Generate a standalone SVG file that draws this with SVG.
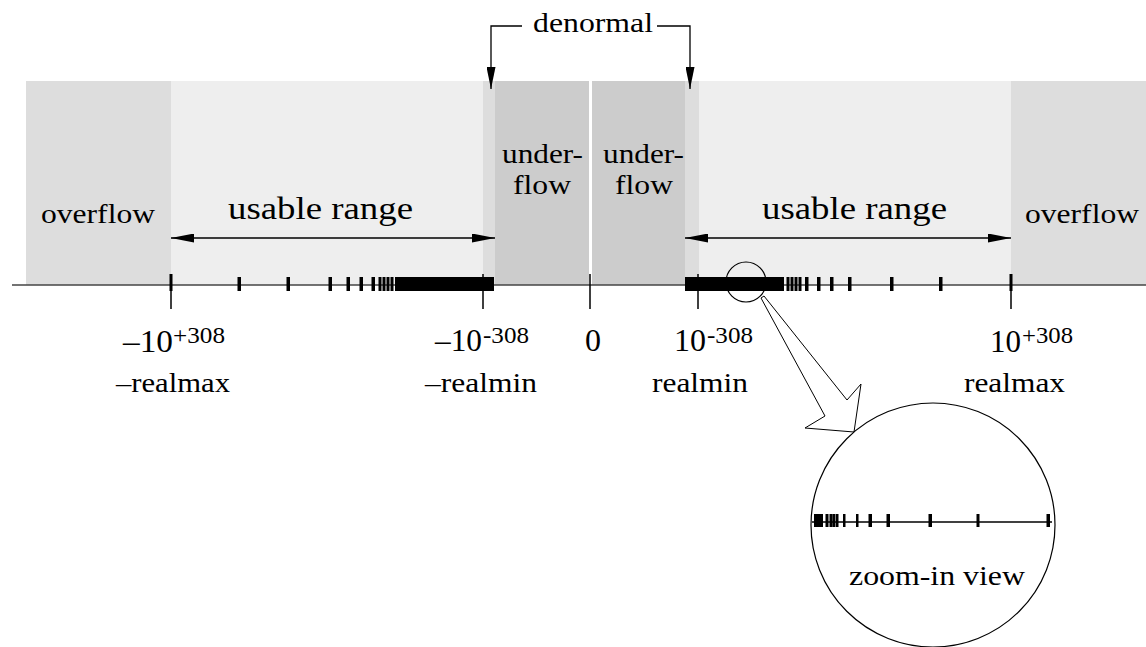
<svg xmlns="http://www.w3.org/2000/svg" width="1146" height="647" viewBox="0 0 1146 647">
<style>
  text { font-family: "Liberation Serif", "Times New Roman", serif; fill: #000; }
  .w { font-size: 28px; }
  .big { font-size: 31px; }
  .num { font-size: 32px; }
  .sup { font-size: 24px; }
  .uf { font-size: 27px; }
  .ln { stroke: #000; stroke-width: 1.3; fill: none; }
  .tk { fill: #000; }
  .axis { stroke: #444; stroke-width: 1.5; }
</style>
<defs>
  <marker id="ah" markerUnits="userSpaceOnUse" markerWidth="23" markerHeight="9" refX="23" refY="4.5" orient="auto-start-reverse">
    <path d="M0,0 L23,4.5 L0,9 z" fill="#000"/>
  </marker>
  <marker id="ahs" markerUnits="userSpaceOnUse" markerWidth="22" markerHeight="9" refX="22" refY="4.5" orient="auto">
    <path d="M0,0 L22,4.5 L0,9 z" fill="#000"/>
  </marker>
</defs>

<g id="bands">
  <rect x="26" y="81" width="145" height="204" fill="#dddddd"/>
  <rect x="171" y="81" width="312" height="204" fill="#eeeeee"/>
  <rect x="483" y="81" width="12" height="204" fill="#dddddd"/>
  <rect x="495" y="81" width="94" height="204" fill="#cccccc"/>
  <rect x="592" y="81" width="93" height="204" fill="#cccccc"/>
  <rect x="685" y="81" width="14" height="204" fill="#dddddd"/>
  <rect x="699" y="81" width="312" height="204" fill="#eeeeee"/>
  <rect x="1011" y="81" width="135" height="204" fill="#dddddd"/>
</g>

<g id="overflow-left"><text class="w" x="41" y="223" textLength="114" lengthAdjust="spacingAndGlyphs">overflow</text></g>
<g id="overflow-right"><text class="w" x="1025" y="223" textLength="114" lengthAdjust="spacingAndGlyphs">overflow</text></g>
<g id="usable-left"><text class="big" x="228" y="219" textLength="185" lengthAdjust="spacingAndGlyphs">usable range</text></g>
<g id="usable-right"><text class="big" x="762" y="219" textLength="185" lengthAdjust="spacingAndGlyphs">usable range</text></g>
<g id="underflow-left">
  <text class="uf" x="502" y="163" textLength="81" lengthAdjust="spacingAndGlyphs">under-</text>
  <text class="uf" x="513" y="194" textLength="58" lengthAdjust="spacingAndGlyphs">flow</text>
</g>
<g id="underflow-right">
  <text class="uf" x="603" y="163" textLength="81" lengthAdjust="spacingAndGlyphs">under-</text>
  <text class="uf" x="615" y="194" textLength="58" lengthAdjust="spacingAndGlyphs">flow</text>
</g>
<g id="denormal"><text class="w" x="533" y="32" textLength="120" lengthAdjust="spacingAndGlyphs">denormal</text></g>

<g id="axis">
  <line class="axis" x1="12" y1="285" x2="1146" y2="285"/>
  <line x1="171" y1="274" x2="171" y2="309" stroke="#000" stroke-width="1.5"/>
  <rect class="tk" x="169.5" y="274" width="3" height="17"/>
  <line x1="483" y1="274" x2="483" y2="309" stroke="#000" stroke-width="1.5"/>
  <line x1="590" y1="274" x2="590" y2="309" stroke="#000" stroke-width="1.5"/>
  <line x1="698" y1="274" x2="698" y2="309" stroke="#000" stroke-width="1.5"/>
  <line x1="1011" y1="274" x2="1011" y2="309" stroke="#000" stroke-width="1.5"/>
  <rect class="tk" x="1009.5" y="274" width="3" height="17"/>
  <!-- left minor ticks -->
  <rect class="tk" x="237.5" y="277" width="3.5" height="14"/>
  <rect class="tk" x="286.5" y="277" width="3.5" height="14"/>
  <rect class="tk" x="328.5" y="277" width="3.5" height="14"/>
  <rect class="tk" x="346.5" y="277" width="3.5" height="14"/>
  <rect class="tk" x="359.5" y="277" width="3.5" height="14"/>
  <rect class="tk" x="371.5" y="277" width="3.5" height="14"/>
  <rect class="tk" x="378.5" y="277" width="3" height="14"/>
  <rect class="tk" x="382.5" y="277" width="3" height="14"/>
  <rect class="tk" x="386.5" y="277" width="3" height="14"/>
  <rect class="tk" x="390.5" y="277" width="3" height="14"/>
  <rect class="tk" x="395" y="277" width="99" height="14"/>
  <!-- right minor ticks -->
  <rect class="tk" x="685" y="277" width="99" height="14"/>
  <rect class="tk" x="786.5" y="277" width="3" height="14"/>
  <rect class="tk" x="790.5" y="277" width="3" height="14"/>
  <rect class="tk" x="794.5" y="277" width="3" height="14"/>
  <rect class="tk" x="798.5" y="277" width="3" height="14"/>
  <rect class="tk" x="805" y="277" width="3.5" height="14"/>
  <rect class="tk" x="817" y="277" width="3.5" height="14"/>
  <rect class="tk" x="830" y="277" width="3.5" height="14"/>
  <rect class="tk" x="848" y="277" width="3.5" height="14"/>
  <rect class="tk" x="890" y="277" width="3.5" height="14"/>
  <rect class="tk" x="939" y="277" width="3.5" height="14"/>
</g>

<g id="labels">
  <text class="num" x="123" y="352" textLength="50" lengthAdjust="spacingAndGlyphs">–10</text>
  <text class="sup" x="173" y="343" textLength="52" lengthAdjust="spacingAndGlyphs">+308</text>
  <text class="w" x="116" y="392" textLength="114" lengthAdjust="spacingAndGlyphs">–realmax</text>

  <text class="num" x="435" y="351" textLength="47" lengthAdjust="spacingAndGlyphs">–10</text>
  <text class="sup" x="483" y="343" textLength="46" lengthAdjust="spacingAndGlyphs">-308</text>
  <text class="w" x="425" y="392" textLength="112" lengthAdjust="spacingAndGlyphs">–realmin</text>

  <text class="num" x="585" y="351">0</text>

  <text class="num" x="674" y="351" textLength="32" lengthAdjust="spacingAndGlyphs">10</text>
  <text class="sup" x="707" y="343" textLength="46" lengthAdjust="spacingAndGlyphs">-308</text>
  <text class="w" x="652" y="392" textLength="96" lengthAdjust="spacingAndGlyphs">realmin</text>

  <text class="num" x="990" y="352" textLength="31" lengthAdjust="spacingAndGlyphs">10</text>
  <text class="sup" x="1022" y="343" textLength="51" lengthAdjust="spacingAndGlyphs">+308</text>
  <text class="w" x="964" y="392" textLength="101" lengthAdjust="spacingAndGlyphs">realmax</text>
</g>

<g id="connectors">
  <line class="ln" x1="171" y1="238" x2="495" y2="238" marker-start="url(#ah)" marker-end="url(#ah)"/>
  <line class="ln" x1="685" y1="238" x2="1011" y2="238" marker-start="url(#ah)" marker-end="url(#ah)"/>
  <polyline class="ln" points="522,26 491,26 491,89" marker-end="url(#ahs)"/>
  <polyline class="ln" points="657,26 690,26 690,89" marker-end="url(#ahs)"/>
  <polygon points="761,298 825,416 805,428 854,432 861,384 847,400 764,296" fill="none" stroke="#000" stroke-width="1"/>
</g>

<g id="magnifier">
  <circle cx="746" cy="282" r="20" fill="none" stroke="#000" stroke-width="1.2"/>
</g>

<g id="zoom-view">
  <circle cx="933" cy="525" r="122" fill="none" stroke="#000" stroke-width="1.2"/>
  <line x1="812" y1="522" x2="1052" y2="522" stroke="#000" stroke-width="1.5"/>
  <rect class="tk" x="814" y="514" width="9" height="13"/>
  <rect class="tk" x="825.5" y="514" width="3" height="13"/>
  <rect class="tk" x="829.5" y="514" width="3" height="13"/>
  <rect class="tk" x="832.5" y="514" width="3" height="13"/>
  <rect class="tk" x="836" y="514" width="2.5" height="13"/>
  <rect class="tk" x="843" y="514" width="2.5" height="13"/>
  <rect class="tk" x="856" y="514" width="2.5" height="13"/>
  <rect class="tk" x="868.5" y="514" width="3.5" height="13"/>
  <rect class="tk" x="886.5" y="514" width="3.5" height="13"/>
  <rect class="tk" x="928.5" y="514" width="3.5" height="13"/>
  <rect class="tk" x="976.5" y="514" width="3" height="13"/>
  <rect class="tk" x="1046.5" y="514" width="3.5" height="13"/>
  <text class="w" x="849" y="585" textLength="176" lengthAdjust="spacingAndGlyphs">zoom-in view</text>
</g>
</svg>
